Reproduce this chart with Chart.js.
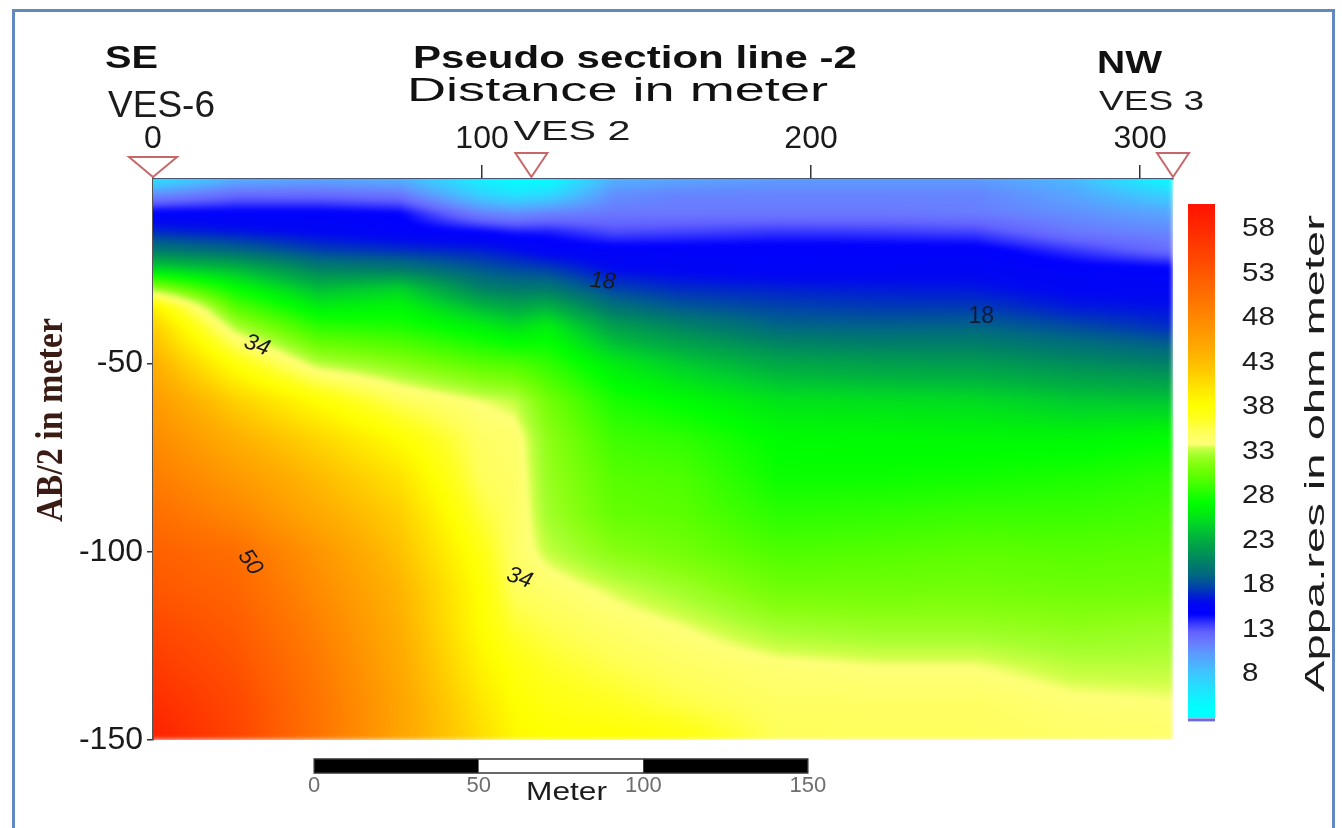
<!DOCTYPE html>
<html>
<head>
<meta charset="utf-8">
<title>Pseudo section line -2</title>
<script src="https://cdn.jsdelivr.net/npm/chart.js@4.4.1/dist/chart.umd.min.js"></script>
<style>
  html, body { margin: 0; padding: 0; background: #fff; }
  #section { display: block; }
</style>
</head>
<body>
<canvas id="section" width="1342" height="828"></canvas>
<script>
// Station positions along the line (m) and sampled AB/2 depths (m)
const distances = [0, 25, 50, 75, 100, 110, 120, 140, 160, 190, 220, 250, 280, 310];
const depths = [-1, -5, -10, -15, -20, -25, -30, -35, -40, -50, -60, -70, -80, -90, -100, -110, -120, -130, -140, -150];

// Apparent resistivity (ohm m) down each column, one value per depth above
const rho000 = [6, 10.5, 14.8, 16.8, 20, 25, 32, 39, 41.5, 44, 46, 47.5, 49, 50.5, 52, 53, 54.5, 56, 57.5, 59];
const rho025 = [9, 12, 14.8, 16.2, 19, 23.5, 27, 29.8, 32.5, 37.5, 41.5, 44, 46, 48, 50.5, 51.5, 52.5, 53.5, 54.5, 55];
const rho050 = [9.5, 12, 14.8, 15.6, 17.5, 20.5, 23.5, 26, 28.3, 32.8, 38, 41, 43, 44.5, 46.5, 47.5, 48.5, 49.3, 49.8, 50];
const rho075 = [9, 11.5, 14.5, 15, 17, 20, 24.5, 26.5, 27.8, 31.5, 35, 38, 40, 41.5, 42.5, 43.5, 44, 44.5, 45, 45];
const rho100 = [5, 7, 11, 14.5, 16.5, 18.3, 20.3, 23.3, 26, 29.8, 33.5, 34.5, 34.8, 35.8, 37, 37.8, 38, 38.8, 39.7, 40.5];
const rho110 = [4, 6, 10.5, 14, 16, 17.8, 19.8, 22.5, 25, 29.5, 33, 34.2, 34.4, 34.5, 34.4, 34.8, 36, 37.3, 38, 38.5];
const rho120 = [4, 6.5, 11, 14, 15.3, 17.5, 19.8, 23, 26, 28.5, 30.8, 31.7, 32, 32.3, 33, 34.3, 35.3, 36.3, 37.2, 38];
const rho140 = [9, 10.5, 11.5, 13, 15, 15.8, 17.5, 19.5, 22, 25.8, 27.8, 29, 29.8, 30.3, 31.5, 33.2, 34.3, 35.3, 36.5, 38];
const rho160 = [9.5, 11, 11.5, 13.2, 15, 15.5, 16.8, 18.3, 20.5, 24.3, 26.8, 28.5, 29.5, 30, 30.8, 32.3, 33.6, 34.5, 35.5, 37.5];
const rho190 = [10, 11, 11.5, 13.5, 15, 15.2, 16.5, 17.6, 18.8, 22.5, 25.4, 26.8, 27.3, 28.3, 29.5, 30.7, 32.3, 33.8, 34.5, 35];
const rho220 = [10, 11, 11.5, 13.4, 15, 15.3, 16.3, 17.3, 18.6, 22, 25.2, 26.7, 27.3, 28.5, 29.7, 30.7, 32, 33.5, 34.5, 34.8];
const rho250 = [10, 11, 11.3, 13.2, 15, 15.5, 16.2, 17.3, 18.7, 21.8, 25, 26.6, 27.5, 28.8, 30, 30.8, 32, 33.5, 34.5, 34.8];
const rho280 = [8.5, 9.5, 10.5, 11.5, 13.5, 15, 15.5, 16.3, 17.8, 21, 24.2, 26.5, 27.8, 28.8, 29.8, 30.6, 31.7, 32.8, 33.8, 34.5];
const rho310 = [4, 7, 9.5, 10.8, 12, 14.8, 15.5, 16, 16.8, 20.3, 24, 27, 28.3, 29.2, 30, 30.7, 32, 32.8, 33.6, 34.3];
const soundings = [rho000, rho025, rho050, rho075, rho100, rho110, rho120, rho140, rho160, rho190, rho220, rho250, rho280, rho310];

// Axis ticks
const distanceTicks = [0, 100, 200, 300];
const depthTicks = [-50, -100, -150];
const legendTicks = [58, 53, 48, 43, 38, 33, 28, 23, 18, 13, 8];

// VES stations on the line
const stations = [0, 115, 310];
const stationNames = ['VES-6', 'VES 2', 'VES 3'];

// Contour labels: value and where it sits (distance m, depth m)
const contourValues = [18, 18, 34, 50, 34];
const contourDistance = [136.7, 251.7, 31.6, 29.5, 111.4];
const contourDepth = [-28.2, -37.5, -45.2, -102.8, -107];

// Scale bar ticks (m)
const scaleBarTicks = [0, 50, 100, 150];

// colour ramp of the legend
const rampStops = [
  [0, '#00ffff'], [4, '#00ffff'], [6, '#20e4ff'], [8, '#40c4ff'], [10, '#5c9cff'],
  [11.5, '#6a78ff'], [12.5, '#6262ff'], [13.5, '#3636ff'], [14.5, '#0000ff'], [15.8, '#0008f0'],
  [17, '#0030c0'], [18, '#00509c'], [19, '#006a80'], [20, '#007a6c'], [21.5, '#009654'],
  [23, '#00b040'], [24.5, '#00d22a'], [26, '#00f00c'], [27, '#00ff00'], [28.5, '#30ff00'],
  [30, '#5cff00'], [31.5, '#88ff10'], [32.5, '#a8ff30'], [33.2, '#d0ff48'], [33.6, '#ffff78'],
  [35, '#ffff58'], [36.5, '#ffff20'], [38, '#ffff00'], [40, '#ffe400'], [42, '#ffc800'],
  [44, '#ffae00'], [46, '#ff9a00'], [48, '#ff8600'], [50, '#ff7200'], [52, '#ff6000'],
  [54, '#ff4c00'], [56, '#ff3a00'], [58, '#ff2800'], [60, '#ff1800'], [64, '#ff0000']
];

const SANS = "'Liberation Sans', Arial, sans-serif";
const SERIF = "'Liberation Serif', 'Times New Roman', serif";

function hexRgb(h) {
  return [parseInt(h.slice(1, 3), 16), parseInt(h.slice(3, 5), 16), parseInt(h.slice(5, 7), 16)];
}
const rampRgb = rampStops.map(s => [s[0], hexRgb(s[1])]);

function rampColor(v) {
  if (v <= rampRgb[0][0]) return rampRgb[0][1];
  for (let i = 0; i < rampRgb.length - 1; i++) {
    const a = rampRgb[i], b = rampRgb[i + 1];
    if (v <= b[0]) {
      const t = (v - a[0]) / (b[0] - a[0]);
      return [0, 1, 2].map(k => a[1][k] + (b[1][k] - a[1][k]) * t);
    }
  }
  return rampRgb[rampRgb.length - 1][1];
}

function clamp(v, lo, hi) { return Math.max(lo, Math.min(hi, v)); }

function locate(arr, v, descending) {
  for (let k = 0; k < arr.length - 1; k++) {
    if (descending ? v >= arr[k + 1] : v <= arr[k + 1]) return k;
  }
  return arr.length - 2;
}

// bilinear lookup in the sounding grid
function resistivity(xm, dm) {
  const i = locate(distances, xm, false);
  const j = locate(depths, dm, true);
  const tx = clamp((xm - distances[i]) / (distances[i + 1] - distances[i]), 0, 1);
  const ty = clamp((dm - depths[j]) / (depths[j + 1] - depths[j]), 0, 1);
  const a = soundings[i][j], b = soundings[i + 1][j];
  const c = soundings[i][j + 1], d = soundings[i + 1][j + 1];
  return a * (1 - tx) * (1 - ty) + b * tx * (1 - ty) + c * (1 - tx) * ty + d * tx * ty;
}

// text squeezed/stretched horizontally; (x, y) = left end on the baseline
function drawText(ctx, text, x, y, opts) {
  ctx.save();
  ctx.font = opts.font;
  ctx.fillStyle = opts.color || '#1c1c1c';
  ctx.textAlign = 'left';
  ctx.textBaseline = 'alphabetic';
  const w = ctx.measureText(text).width;
  const sx = opts.width ? opts.width / w : (opts.sx || 1);
  ctx.translate(x, y);
  if (opts.angle) ctx.rotate(opts.angle);
  ctx.scale(sx, 1);
  ctx.fillText(text, 0, 0);
  ctx.restore();
}

let fieldCache = null;

const fieldPlugin = {
  id: 'resistivityField',
  beforeDatasetsDraw(chart) {
    const { ctx, chartArea: a, scales } = chart;
    const pad = 8;
    const w = Math.ceil(a.right - a.left) + pad;
    const h = Math.ceil(a.bottom - a.top) + pad;
    if (!fieldCache) {
      const off = document.createElement('canvas');
      off.width = w; off.height = h;
      const octx = off.getContext('2d');
      const img = octx.createImageData(w, h);
      const xs = [], ys = [];
      for (let i = 0; i < w; i++) xs.push(clamp(scales.x.getValueForPixel(a.left - pad + i + 0.5), 0, 310));
      for (let j = 0; j < h; j++) ys.push(clamp(scales.y.getValueForPixel(a.top - pad + j + 0.5), -150, -1));
      let p = 0;
      for (let j = 0; j < h; j++) {
        for (let i = 0; i < w; i++) {
          const c = rampColor(resistivity(xs[i], ys[j]));
          img.data[p++] = c[0]; img.data[p++] = c[1]; img.data[p++] = c[2]; img.data[p++] = 255;
        }
      }
      octx.putImageData(img, 0, 0);
      fieldCache = off;
    }
    ctx.save();
    ctx.beginPath();
    ctx.rect(a.left, a.top, a.right - a.left, a.bottom - a.top);
    ctx.clip();
    ctx.filter = 'blur(2.5px)';
    ctx.drawImage(fieldCache, a.left - pad, a.top - pad);
    ctx.restore();
  }
};

const overlayPlugin = {
  id: 'sectionOverlay',
  afterDraw(chart) {
    const { ctx, chartArea: a, scales } = chart;
    const x = scales.x, y = scales.y, cb = scales.cb;

    // contour labels
    const tilt = [5, 0, 20, 55, 20];
    contourValues.forEach((v, i) => {
      ctx.save();
      ctx.translate(x.getPixelForValue(contourDistance[i]), y.getPixelForValue(contourDepth[i]));
      ctx.rotate(tilt[i] * Math.PI / 180);
      ctx.font = (i === 1 ? '' : 'italic ') + '23px ' + SANS;
      ctx.fillStyle = i === 1 ? '#0c1a3a' : '#1a1a1a';
      ctx.textAlign = 'center';
      ctx.textBaseline = 'middle';
      ctx.fillText(String(v), 0, 0);
      ctx.restore();
    });

    // colour legend
    const barL = 1188, barW = 27;
    const top = cb.getPixelForValue(60.5), bottom = cb.getPixelForValue(2.9);
    for (let py = Math.floor(top); py < bottom; py++) {
      const c = rampColor(cb.getValueForPixel(py + 0.5));
      ctx.fillStyle = `rgb(${c[0] | 0},${c[1] | 0},${c[2] | 0})`;
      ctx.fillRect(barL, py, barW, 1);
    }
    ctx.fillStyle = '#6b6bd6';
    ctx.fillRect(barL, bottom + 1, barW, 3);
    legendTicks.forEach(v => {
      drawText(ctx, String(v), 1242, cb.getPixelForValue(v) + 9, { font: '25px ' + SANS, sx: 1.18 });
    });
    drawText(ctx, 'Appa.res in ohm meter', 1324, 692, { font: '27px ' + SANS, width: 477, angle: -Math.PI / 2 });

    // stations
    stations.forEach((s, i) => {
      const px = x.getPixelForValue(s);
      const hw = i === 0 ? 24 : 16, th = i === 0 ? 20 : 24;
      ctx.save();
      ctx.beginPath();
      ctx.moveTo(px, a.top - 2);
      ctx.lineTo(px - hw, a.top - 2 - th);
      ctx.lineTo(px + hw, a.top - 2 - th);
      ctx.closePath();
      ctx.fillStyle = '#ffffff';
      ctx.fill();
      ctx.strokeStyle = '#c8676a';
      ctx.lineWidth = 2;
      ctx.stroke();
      ctx.restore();
    });
    drawText(ctx, stationNames[0], x.getPixelForValue(stations[0]) - 45, 117, { font: '37px ' + SANS, width: 107 });
    drawText(ctx, stationNames[1], x.getPixelForValue(stations[1]) - 18, 140, { font: '28px ' + SANS, width: 117 });
    drawText(ctx, stationNames[2], x.getPixelForValue(stations[2]) - 74, 110, { font: '28px ' + SANS, width: 105 });

    // headings
    drawText(ctx, 'SE', 105, 68, { font: 'bold 32px ' + SANS, width: 53, color: '#111' });
    drawText(ctx, 'NW', 1097, 73, { font: 'bold 32px ' + SANS, width: 65, color: '#111' });
    drawText(ctx, 'Pseudo section line -2', 413, 68, { font: 'bold 31px ' + SANS, width: 444, color: '#111' });
    drawText(ctx, 'Distance in meter', 407, 101, { font: '34px ' + SANS, width: 421, color: '#111' });
    drawText(ctx, 'AB/2 in meter', 62, 522, { font: 'bold 38px ' + SERIF, width: 204, color: '#3a1c14', angle: -Math.PI / 2 });

    // scale bar, lengths taken from the distance axis
    const unit = x.getPixelForValue(50) - x.getPixelForValue(0);
    const x0 = x.getPixelForValue(49);
    for (let k = 0; k < 3; k++) {
      ctx.fillStyle = k === 1 ? '#ffffff' : '#000000';
      ctx.fillRect(x0 + k * unit, 759, unit, 14);
    }
    ctx.strokeStyle = '#333';
    ctx.lineWidth = 1.5;
    ctx.strokeRect(x0, 759, 3 * unit, 14);
    ctx.font = '22px ' + SANS;
    ctx.fillStyle = '#6e6e6e';
    ctx.textAlign = 'center';
    ctx.textBaseline = 'alphabetic';
    scaleBarTicks.forEach(t => ctx.fillText(String(t), x0 + t / 50 * unit, 792));
    drawText(ctx, 'Meter', 526, 800, { font: '25px ' + SANS, width: 81 });

    // page frame
    ctx.strokeStyle = '#6288bf';
    ctx.lineWidth = 3;
    ctx.strokeRect(13.5, 10.5, 1320, 900);
  }
};

new Chart(document.getElementById('section'), {
  type: 'scatter',
  data: { datasets: [] },
  options: {
    responsive: false,
    animation: false,
    layout: { padding: { left: 73, top: 119, right: 169, bottom: 88 } },
    plugins: { legend: { display: false }, tooltip: { enabled: false } },
    scales: {
      x: {
        type: 'linear', position: 'top', min: 0, max: 310,
        afterBuildTicks: s => { s.ticks = distanceTicks.map(v => ({ value: v })); },
        afterFit: s => { s.height = 60; },
        ticks: { font: { family: SANS, size: 32 }, color: '#1a1a1a', padding: 7 },
        grid: { drawOnChartArea: false, tickLength: 14, color: '#333', lineWidth: 1.5 },
        border: { color: '#4a5876', width: 2 }
      },
      y: {
        type: 'linear', position: 'left', min: -150, max: -1,
        afterBuildTicks: s => { s.ticks = depthTicks.map(v => ({ value: v })); },
        afterFit: s => { s.width = 80; },
        ticks: { font: { family: SANS, size: 32 }, color: '#1a1a1a', padding: 4 },
        grid: { drawOnChartArea: false, tickLength: 6, color: '#333', lineWidth: 1.5 },
        border: { color: '#555', width: 2 }
      },
      cb: {
        type: 'linear', position: 'right', min: 0.36, max: 63.4,
        afterFit: s => { s.width = 0; },
        ticks: { display: false },
        grid: { display: false },
        border: { display: false }
      }
    }
  },
  plugins: [fieldPlugin, overlayPlugin]
});
</script>
</body>
</html>
